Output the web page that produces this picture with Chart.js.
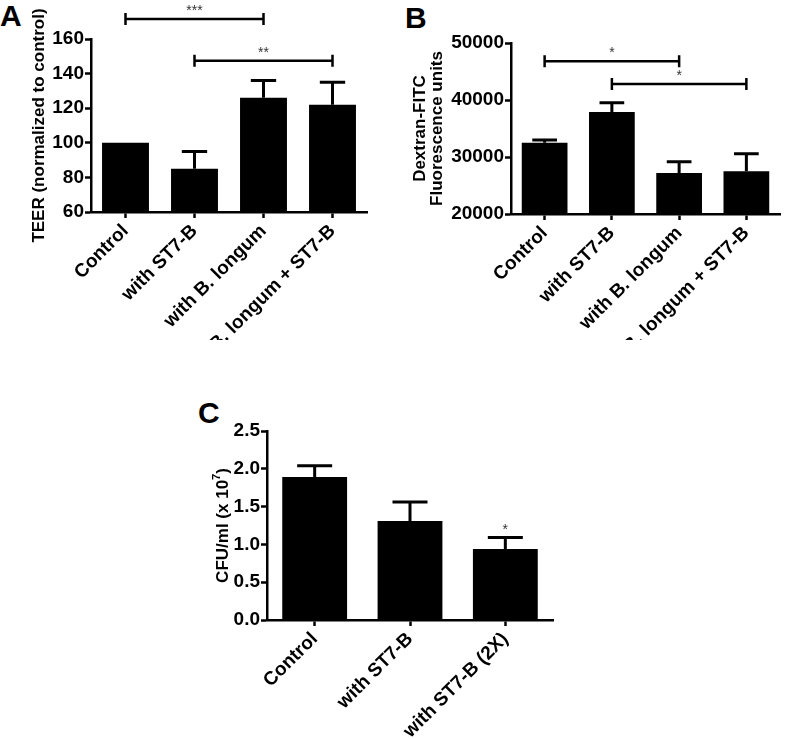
<!DOCTYPE html>
<html>
<head>
<meta charset="utf-8">
<script src="https://cdn.jsdelivr.net/npm/chart.js@4.4.1/dist/chart.umd.min.js"></script>
<style>
  html, body { margin: 0; padding: 0; background: #fff; }
  body { width: 787px; height: 739px; position: relative; overflow: hidden; }
  canvas { position: absolute; }
  .panel { position: absolute; font: bold 30px 'Liberation Sans', Arial, sans-serif; line-height: 30px; color: #000; }
</style>
</head>
<body>
<div class="panel" style="left:0px; top:1px;">A</div>
<div class="panel" style="left:405px; top:3px;">B</div>
<div class="panel" style="left:198px; top:398px;">C</div>
<canvas id="teerChart" width="390" height="340" style="left:0; top:0;"></canvas>
<canvas id="dextranChart" width="397" height="340" style="left:390px; top:0;"></canvas>
<canvas id="cfuChart" width="390" height="369" style="left:190px; top:370px;"></canvas>
<script>
// categorias y valores
const gruposAB = ['Control', 'with ST7-B', 'with B. longum', 'with B. longum + ST7-B'];
const teerMedia = [100, 85, 126, 122];
const teerSem = [0, 10, 10, 13];
const teerTicks = [60, 80, 100, 120, 140, 160];

const dextranMedia = [32500, 37900, 27200, 27500];
const dextranSem = [500, 1600, 1950, 3050];
const dextranTicks = [20000, 30000, 40000, 50000];

const gruposC = ['Control', 'with ST7-B', 'with ST7-B (2X)'];
const cfuMedia = [1.89, 1.31, 0.94];
const cfuSem = [0.15, 0.25, 0.15];
const cfuTicks = [0.0, 0.5, 1.0, 1.5, 2.0, 2.5];

// comparaciones significativas: [desde, hasta, altura, texto]
const teerSig = [[0, 2, 171.5, '***'], [1, 3, 147.5, '**']];
const dextranSig = [[0, 2, 46800, '*'], [1, 3, 42800, '*']];
const cfuSig = [[2, '*']];

const fuente = "'Liberation Sans', Arial, sans-serif";
Chart.defaults.font.family = fuente;
Chart.defaults.color = '#000';

// barras de error (solo hacia arriba) y corchetes de significancia
const errorBarsPlugin = {
    id: 'errorBars',
    afterDatasetsDraw(chart, args, opts) {
        const ctx = chart.ctx;
        const meta = chart.getDatasetMeta(0);
        const y = chart.scales.y;
        const valores = chart.data.datasets[0].data;
        ctx.save();
        ctx.strokeStyle = '#000';
        ctx.lineWidth = 3;
        meta.data.forEach((bar, i) => {
            if (!opts.sem[i]) return;
            const top = y.getPixelForValue(valores[i] + opts.sem[i]);
            const half = bar.width * 0.27;
            ctx.beginPath();
            ctx.moveTo(bar.x, bar.y);
            ctx.lineTo(bar.x, top);
            ctx.moveTo(bar.x - half, top);
            ctx.lineTo(bar.x + half, top);
            ctx.stroke();
        });

        ctx.fillStyle = '#333';
        ctx.font = '14px ' + fuente;
        ctx.textAlign = 'center';
        ctx.textBaseline = 'alphabetic';
        (opts.brackets || []).forEach(([a, b, v, txt]) => {
            const x1 = meta.data[a].x, x2 = meta.data[b].x;
            const yy = y.getPixelForValue(v);
            ctx.lineWidth = 2.5;
            ctx.beginPath();
            ctx.moveTo(x1, yy - 6); ctx.lineTo(x1, yy + 6);
            ctx.moveTo(x1, yy); ctx.lineTo(x2, yy);
            ctx.moveTo(x2, yy - 6); ctx.lineTo(x2, yy + 6);
            ctx.stroke();
            ctx.fillText(txt, (x1 + x2) / 2, yy - 4);
        });
        (opts.marks || []).forEach(([i, txt]) => {
            const top = y.getPixelForValue(valores[i] + opts.sem[i]);
            ctx.fillText(txt, meta.data[i].x, top - 4);
        });
        ctx.restore();
    }
};

// titulo del eje Y del panel C con exponente
const tituloCPlugin = {
    id: 'tituloC',
    afterDraw(chart, args, opts) {
        if (!opts.display) return;
        const ctx = chart.ctx;
        const area = chart.chartArea;
        const base = 'bold 17px ' + fuente;
        const sup = 'bold 11px ' + fuente;
        ctx.save();
        ctx.font = base;
        const w1 = ctx.measureText('CFU/ml (x 10').width;
        const w3 = ctx.measureText(')').width;
        ctx.font = sup;
        const w2 = ctx.measureText('7').width;
        const total = w1 + w2 + w3;
        ctx.translate(opts.x, (area.top + area.bottom) / 2);
        ctx.rotate(-Math.PI / 2);
        ctx.fillStyle = '#000';
        ctx.textAlign = 'left';
        ctx.textBaseline = 'middle';
        let x = -total / 2;
        ctx.font = base;
        ctx.fillText('CFU/ml (x 10', x, 0);
        x += w1;
        ctx.font = sup;
        ctx.fillText('7', x, -6);
        x += w2;
        ctx.font = base;
        ctx.fillText(')', x, 0);
        ctx.restore();
    }
};

function crearGrafico(id, grupos, medias, sem, ticks, extra) {
    const ctx = document.getElementById(id);
    if (!ctx) return;
    new Chart(ctx, {
        type: 'bar',
        data: {
            labels: grupos,
            datasets: [{
                data: medias,
                backgroundColor: '#000',
                borderWidth: 0,
                barPercentage: 0.68,
                categoryPercentage: 1.0
            }]
        },
        options: {
            responsive: false,
            animation: false,
            layout: { padding: extra.padding },
            scales: {
                x: {
                    afterFit: s => { s.height = extra.xHeight; },
                    grid: { display: true, drawOnChartArea: false, offset: false, tickLength: 6, tickColor: '#000', tickWidth: 2.5 },
                    border: { color: '#000', width: 2.5 },
                    ticks: { autoSkip: false, minRotation: 45, maxRotation: 45, padding: 2, font: { size: 19, weight: 'bold' } }
                },
                y: {
                    min: ticks[0],
                    max: ticks[ticks.length - 1],
                    afterFit: s => { s.width = extra.yWidth; },
                    afterBuildTicks: s => { s.ticks = ticks.map(v => ({ value: v })); },
                    grid: { display: true, drawOnChartArea: false, tickLength: 6, tickColor: '#000', tickWidth: 2.5 },
                    border: { color: '#000', width: 2.5 },
                    ticks: { padding: 1, font: { size: 19, weight: 'bold' }, callback: extra.fmt },
                    title: extra.title
                }
            },
            plugins: {
                legend: { display: false },
                tooltip: { enabled: false },
                errorBars: { sem: sem, brackets: extra.brackets, marks: extra.marks },
                tituloC: extra.tituloC || { display: false }
            }
        },
        plugins: [errorBarsPlugin, tituloCPlugin]
    });
}

crearGrafico('teerChart', gruposAB, teerMedia, teerSem, teerTicks, {
    padding: { top: 39, right: 23, left: 0, bottom: 0 },
    xHeight: 128,
    yWidth: 91,
    fmt: v => String(v),
    brackets: teerSig,
    title: { display: true, text: 'TEER (normalized to control)', padding: { top: 29 }, font: { size: 17, weight: 'bold' } }
});

crearGrafico('dextranChart', gruposAB, dextranMedia, dextranSem, dextranTicks, {
    padding: { top: 43, right: 7, left: 0, bottom: 0 },
    xHeight: 126,
    yWidth: 121,
    fmt: v => String(v),
    brackets: dextranSig,
    title: { display: true, text: ['Dextran-FITC', 'Fluorescence units'], padding: { top: 22 }, font: { size: 17, weight: 'bold', lineHeight: 1.0 } }
});

crearGrafico('cfuChart', gruposC, cfuMedia, cfuSem, cfuTicks, {
    padding: { top: 61, right: 27, left: 0, bottom: 0 },
    xHeight: 119,
    yWidth: 77,
    fmt: v => v.toFixed(1),
    marks: cfuSig,
    title: { display: false },
    tituloC: { display: true, x: 33 }
});
</script>
</body>
</html>
